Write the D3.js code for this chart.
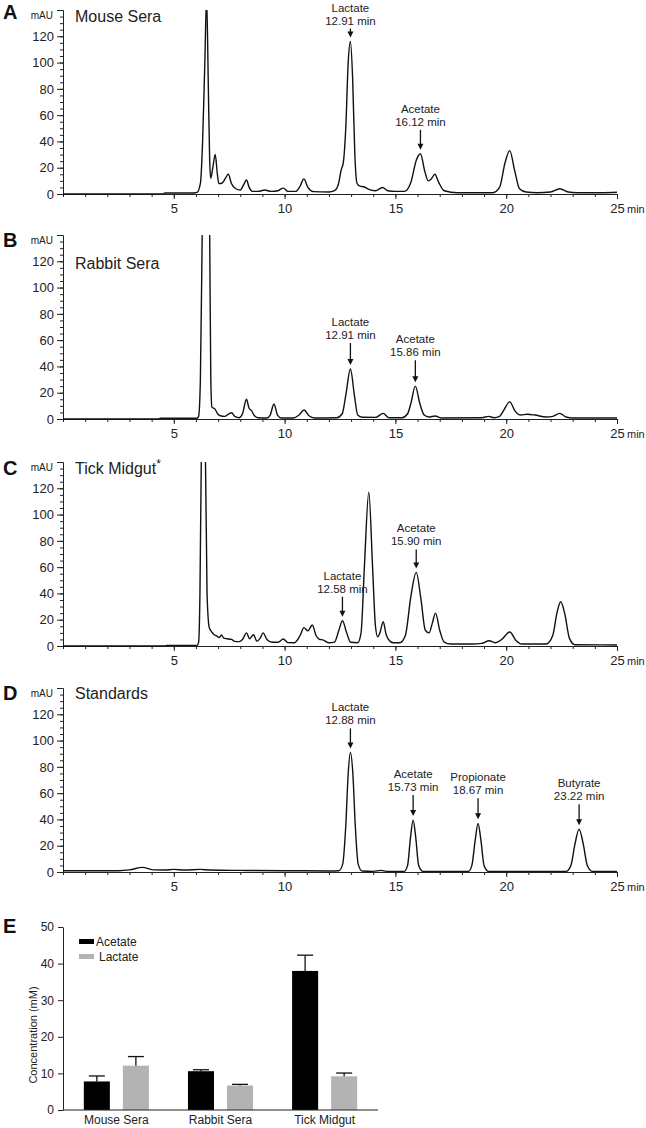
<!DOCTYPE html>
<html>
<head>
<meta charset="utf-8">
<script src="https://cdn.jsdelivr.net/npm/d3@7"></script>
<style>
body{margin:0;background:#fff}
svg{display:block;font-family:"Liberation Sans",Arial,sans-serif}
</style>
</head>
<body>
<svg id="fig" width="646" height="1128"></svg>
<script>
// CHROMATOGRAM TRACES  [time (min), mAU]
const mouseTrace = [[0,0],[4.5,0],[4.6,0.8],[5.9,0.8],[6.05,1.2],[6.2,8],[6.3,40],[6.4,100],[6.48,150],[6.56,80],[6.62,25],[6.67,12],
  [6.76,20],[6.87,30],[6.96,16],[7.03,8],[7.12,8],[7.22,9],[7.33,12],[7.46,15],[7.6,8],[7.8,4],[8.0,3],[8.15,7],[8.28,10.6],[8.4,5],
  [8.55,2],[8.8,2],[9.1,3],[9.4,2],[9.7,2.5],[9.94,4.5],[10.15,2],[10.5,2],[10.7,6],[10.87,11.5],[11.05,5],[11.3,1.8],[12.0,1.5],
  [12.25,2.5],[12.42,7],[12.55,18],[12.65,24],[12.76,50],[12.87,100],[12.97,116],[13.07,88],[13.17,30],[13.27,8],[13.4,6],
  [13.58,5.5],[13.8,3.5],[14.1,2.5],[14.42,5],[14.65,2.5],[15.0,2],[15.4,2],[15.7,9],[15.95,26],[16.13,30.6],[16.33,17],
  [16.48,10],[16.62,11.5],[16.78,15],[16.95,9],[17.2,2.5],[17.8,1],[19.4,1],[19.7,5],[19.95,24],[20.16,33],[20.38,18],
  [20.6,4],[20.9,1.5],[21.4,1],[22.0,1.5],[22.42,4],[22.8,1.5],[23.2,1],[24.4,1],[25,1.3]];

const rabbitTrace = [[0,0],[4.3,0],[4.4,0.6],[6.05,0.6],[6.12,2],[6.2,30],[6.28,140],[6.45,420],[6.62,140],[6.67,30],[6.72,9],
  [6.86,7.5],[6.98,4],[7.1,2.5],[7.3,2],[7.45,3.5],[7.61,4.8],[7.75,2],[7.95,1],[8.1,4],[8.28,15],[8.4,8],[8.5,6.6],[8.62,3],
  [8.8,1],[9.2,0.8],[9.35,3],[9.52,11.4],[9.68,3],[9.85,0.8],[10.4,0.8],[10.65,3],[10.88,6.8],[11.1,2.5],[11.35,0.8],[12.35,1],
  [12.6,4],[12.76,18],[12.97,38],[13.15,18],[13.3,3],[13.5,1.3],[14.1,1.2],[14.45,4.3],[14.7,1],[15.3,1],[15.55,4],[15.7,12],
  [15.9,25],[16.1,12],[16.3,3],[16.5,1.5],[16.8,2.3],[17.05,0.8],[18.9,1],[19.2,2],[19.45,1],[19.7,2],[19.9,7],[20.16,13],
  [20.4,6],[20.65,3],[20.95,3.6],[21.3,3],[21.8,1.5],[22.1,2],[22.42,4.3],[22.7,1.5],[23.0,0.8],[25,0.8]];

const tickTrace = [[0,0],[4.6,0],[4.7,0.5],[6.05,0.5],[6.12,3],[6.18,40],[6.24,140],[6.33,400],[6.43,140],[6.5,40],[6.6,14],
  [6.7,11],[6.8,9],[6.95,7.5],[7.05,6.5],[7.15,8.5],[7.25,6],[7.4,5.5],[7.6,5],[7.75,3.5],[7.95,3.3],[8.1,5],[8.28,10],[8.42,5.5],
  [8.6,8.6],[8.75,3.7],[8.9,6],[9.03,10],[9.2,5],[9.45,2.8],[9.7,2.8],[9.94,5.3],[10.15,2.6],[10.45,2.5],[10.7,8],[10.87,14],
  [11.05,11.5],[11.25,16],[11.42,8],[11.55,5.3],[11.75,4.5],[12.0,2.5],[12.25,3],[12.45,12],[12.61,19.2],[12.8,10],[12.98,2.8],
  [13.3,2.5],[13.45,10],[13.6,60],[13.8,117],[13.97,60],[14.1,15],[14.2,7],[14.3,10],[14.45,18.5],[14.58,9],[14.67,5.5],
  [14.9,2.5],[15.2,2.5],[15.45,8],[15.7,38],[15.94,56],[16.15,36],[16.35,12],[16.52,10],[16.66,17],[16.81,25],[17.0,12],
  [17.2,3],[17.5,1.5],[18.5,1.5],[18.9,2],[19.23,4],[19.5,2.5],[19.8,5],[20.16,10.6],[20.45,4],[20.7,1.5],[21.8,1.5],[22.1,8],
  [22.3,26],[22.46,33.7],[22.65,24],[22.85,6],[23.1,1],[25,0.8]];

const standardsTrace = [[0,1],[2.5,1],[3.0,1.6],[3.58,3.5],[4.1,1.6],[4.6,1.5],[5.0,2],[5.5,1.5],[6.2,2],[6.6,1.5],[8,1.2],
  [10,1],[12,0.8],[12.45,1],[12.62,6],[12.76,35],[12.87,75],[12.97,91],[13.08,75],[13.19,35],[13.32,6],[13.5,0.8],[14.0,0.5],
  [14.35,1.2],[14.6,0.5],[15.4,0.5],[15.55,5],[15.68,26],[15.8,39.5],[15.92,26],[16.05,5],[16.25,0.5],[18.3,0.5],[18.45,5],
  [18.6,24],[18.73,37],[18.86,24],[19.0,5],[19.2,0.5],[22.7,0.5],[22.92,5],[23.1,21],[23.29,32.6],[23.48,21],[23.66,5],
  [23.9,0.5],[25,0.5]];

// PEAK ANNOTATIONS  [compound, retention label, retention time]
const mouseLabels = [["Lactate","12.91 min",12.91],["Acetate","16.12 min",16.12]];
const rabbitLabels = [["Lactate","12.91 min",12.91],["Acetate","15.86 min",15.86]];
const tickLabels = [["Lactate","12.58 min",12.58],["Acetate","15.90 min",15.90]];
const standardsLabels = [["Lactate","12.88 min",12.88],["Acetate","15.73 min",15.73],
  ["Propionate","18.67 min",18.67],["Butyrate","23.22 min",23.22]];

const panelLetters = ["A","B","C","D"];
const panelTitles = ["Mouse Sera","Rabbit Sera","Tick Midgut","Standards"];
const xTickLabels = [5,10,15,20,25];
const yTickLabels = [0,20,40,60,80,100,120];

// BAR CHART (panel E)
const groups = ["Mouse Sera","Rabbit Sera","Tick Midgut"];
const seriesNames = ["Acetate","Lactate"];
const acetateMean = [7.8,10.6,38.0];
const acetateErr = [1.5,0.4,4.3];
const lactateMean = [12.1,6.7,9.2];
const lactateErr = [2.5,0.3,0.9];
const barTicks = [0,10,20,30,40,50];

// LAYOUT
const svg = d3.select("#fig");
const ink = "#222";
const panelBase = [194,419,646,872];
const letterY = [19,247,475,700];
const titleY = [22,269,474,699];
const arrowLen = [[9,20],[22,22],[20,19],[20,21,21,21]];
const traces = [mouseTrace,rabbitTrace,tickTrace,standardsTrace];
const labels = [mouseLabels,rabbitLabels,tickLabels,standardsLabels];

const x = d3.scaleLinear().domain([0,25]).range([63,617]);

function styleAxis(g, size){
    g.select(".domain").attr("stroke",ink).attr("stroke-width",1);
    g.selectAll(".tick line").attr("stroke",ink);
    g.selectAll(".tick text").attr("fill",ink).style("font-size",size+"px").style("font-family","Liberation Sans, Arial, sans-serif");
}

function chromatogram(i){
    const base = panelBase[i];
    const y = d3.scaleLinear().domain([0,140]).range([base, base-184]);
    const g = svg.append("g");

    // minor + major x ticks
    g.append("g").attr("transform","translate(0,"+base+")")
        .call(d3.axisBottom(x).tickValues(d3.range(0,26,1)).tickSize(3).tickSizeOuter(0).tickFormat(""))
        .call(styleAxis,13);
    g.append("g").attr("transform","translate(0,"+base+")")
        .call(d3.axisBottom(x).tickValues(xTickLabels).tickSize(5).tickSizeOuter(0).tickPadding(5))
        .call(styleAxis,13);
    g.append("text").attr("x",627).attr("y",base+19).attr("fill",ink).style("font-size","11px").text("min");

    // y axis
    g.append("g").attr("transform","translate(63,0)")
        .call(d3.axisLeft(y).tickValues(d3.range(0,141,5)).tickSize(3).tickSizeOuter(0).tickFormat(""))
        .call(styleAxis,13);
    g.append("g").attr("transform","translate(63,0)")
        .call(d3.axisLeft(y).tickValues(yTickLabels.concat([140])).tickSize(6).tickSizeOuter(0).tickPadding(3)
            .tickFormat(d => d===140 ? "" : d))
        .call(styleAxis,13);
    g.append("text").attr("x",53).attr("y",y(140)+9).attr("text-anchor","end")
        .attr("fill",ink).style("font-size","10px").text("mAU");

    // trace, clipped at the top of the axis
    svg.append("clipPath").attr("id","clip"+i).append("rect")
        .attr("x",60).attr("y",y(140)).attr("width",570).attr("height",200);
    const line = d3.line().x(d => x(d[0])).y(d => y(d[1])).curve(d3.curveMonotoneX);
    g.append("path").datum(traces[i]).attr("clip-path","url(#clip"+i+")")
        .attr("fill","none").attr("stroke","#111").attr("stroke-width",1.4)
        .attr("stroke-linejoin","round").attr("d",line);

    // letter and title
    g.append("text").attr("x",3).attr("y",letterY[i]).attr("fill","#111")
        .style("font-size","20px").style("font-weight","bold").text(panelLetters[i]);
    const t = g.append("text").attr("x",75).attr("y",titleY[i]).attr("fill",ink)
        .style("font-size","16px").text(panelTitles[i]);
    if(i===2){
        t.append("tspan").attr("dy",-6).style("font-size","12px").text("*");
    }

    // peak labels with arrows
    labels[i].forEach(function(lab, k){
        const near = traces[i].filter(d => Math.abs(d[0]-lab[2]) < 0.4);
        const apex = near.reduce((a,b) => b[1] > a[1] ? b : a);
        const ax = x(apex[0]);
        const tip = y(apex[1]) - 4;
        const top = tip - arrowLen[i][k];
        g.append("line").attr("x1",ax).attr("x2",ax).attr("y1",top).attr("y2",tip-5)
            .attr("stroke","#111").attr("stroke-width",1.3);
        g.append("path").attr("d","M"+(ax-3)+","+(tip-6)+"L"+(ax+3)+","+(tip-6)+"L"+ax+","+tip+"Z")
            .attr("fill","#111");
        g.append("text").attr("x",ax).attr("y",top-4).attr("text-anchor","middle")
            .attr("fill",ink).style("font-size","11.5px").text(lab[1]);
        g.append("text").attr("x",ax).attr("y",top-17).attr("text-anchor","middle")
            .attr("fill",ink).style("font-size","11.5px").text(lab[0]);
    });
}

for(let i=0;i<4;i++) chromatogram(i);

// PANEL E
const ey = d3.scaleLinear().domain([0,50]).range([1110,927]);
const x0 = d3.scaleBand().domain(groups).range([63,378]).paddingInner(0.375).paddingOuter(0.2);
const x1 = d3.scaleBand().domain(seriesNames).range([0,x0.bandwidth()]).paddingInner(0.333);
const colors = {"Acetate":"#000","Lactate":"#b3b3b3"};
const means = {"Acetate":acetateMean,"Lactate":lactateMean};
const errs = {"Acetate":acetateErr,"Lactate":lactateErr};

const e = svg.append("g");
const rows = [];
groups.forEach(function(grp, gi){
    seriesNames.forEach(function(s){
        rows.push({grp:grp, s:s, v:means[s][gi], err:errs[s][gi]});
    });
});

e.selectAll("rect.bar").data(rows).enter().append("rect").attr("class","bar")
    .attr("x", d => x0(d.grp)+x1(d.s))
    .attr("y", d => ey(d.v))
    .attr("width", x1.bandwidth())
    .attr("height", d => ey(0)-ey(d.v))
    .attr("fill", d => colors[d.s]);

const eb = e.selectAll("g.err").data(rows).enter().append("g").attr("class","err");
eb.append("line")
    .attr("x1", d => x0(d.grp)+x1(d.s)+x1.bandwidth()/2)
    .attr("x2", d => x0(d.grp)+x1(d.s)+x1.bandwidth()/2)
    .attr("y1", d => ey(d.v)).attr("y2", d => ey(d.v+d.err))
    .attr("stroke","#111").attr("stroke-width",1.3);
eb.append("line")
    .attr("x1", d => x0(d.grp)+x1(d.s)+x1.bandwidth()/2-8)
    .attr("x2", d => x0(d.grp)+x1(d.s)+x1.bandwidth()/2+8)
    .attr("y1", d => ey(d.v+d.err)).attr("y2", d => ey(d.v+d.err))
    .attr("stroke","#111").attr("stroke-width",1.3);

e.append("g").attr("transform","translate(63,0)")
    .call(d3.axisLeft(ey).tickValues(barTicks).tickSize(5).tickSizeOuter(0).tickPadding(4))
    .call(styleAxis,12);
e.append("line").attr("x1",63).attr("x2",378).attr("y1",ey(0)).attr("y2",ey(0))
    .attr("stroke",ink).attr("stroke-width",1.2);

groups.forEach(function(grp){
    e.append("text").attr("x",x0(grp)+x0.bandwidth()/2).attr("y",1124).attr("text-anchor","middle")
        .attr("fill",ink).style("font-size","12px").text(grp);
});

e.append("text").attr("transform","translate(37,1035) rotate(-90)").attr("text-anchor","middle")
    .attr("fill",ink).style("font-size","11px").text("Concentration (mM)");

// legend
seriesNames.forEach(function(s, k){
    e.append("rect").attr("x",79).attr("y",939+k*15).attr("width",15).attr("height",5).attr("fill",colors[s]);
    e.append("text").attr("x",96+k*3).attr("y",946+k*15).attr("fill",ink).style("font-size","12px").text(s);
});

e.append("text").attr("x",3).attr("y",933).attr("fill","#111")
    .style("font-size","20px").style("font-weight","bold").text("E");
</script>
</body>
</html>
